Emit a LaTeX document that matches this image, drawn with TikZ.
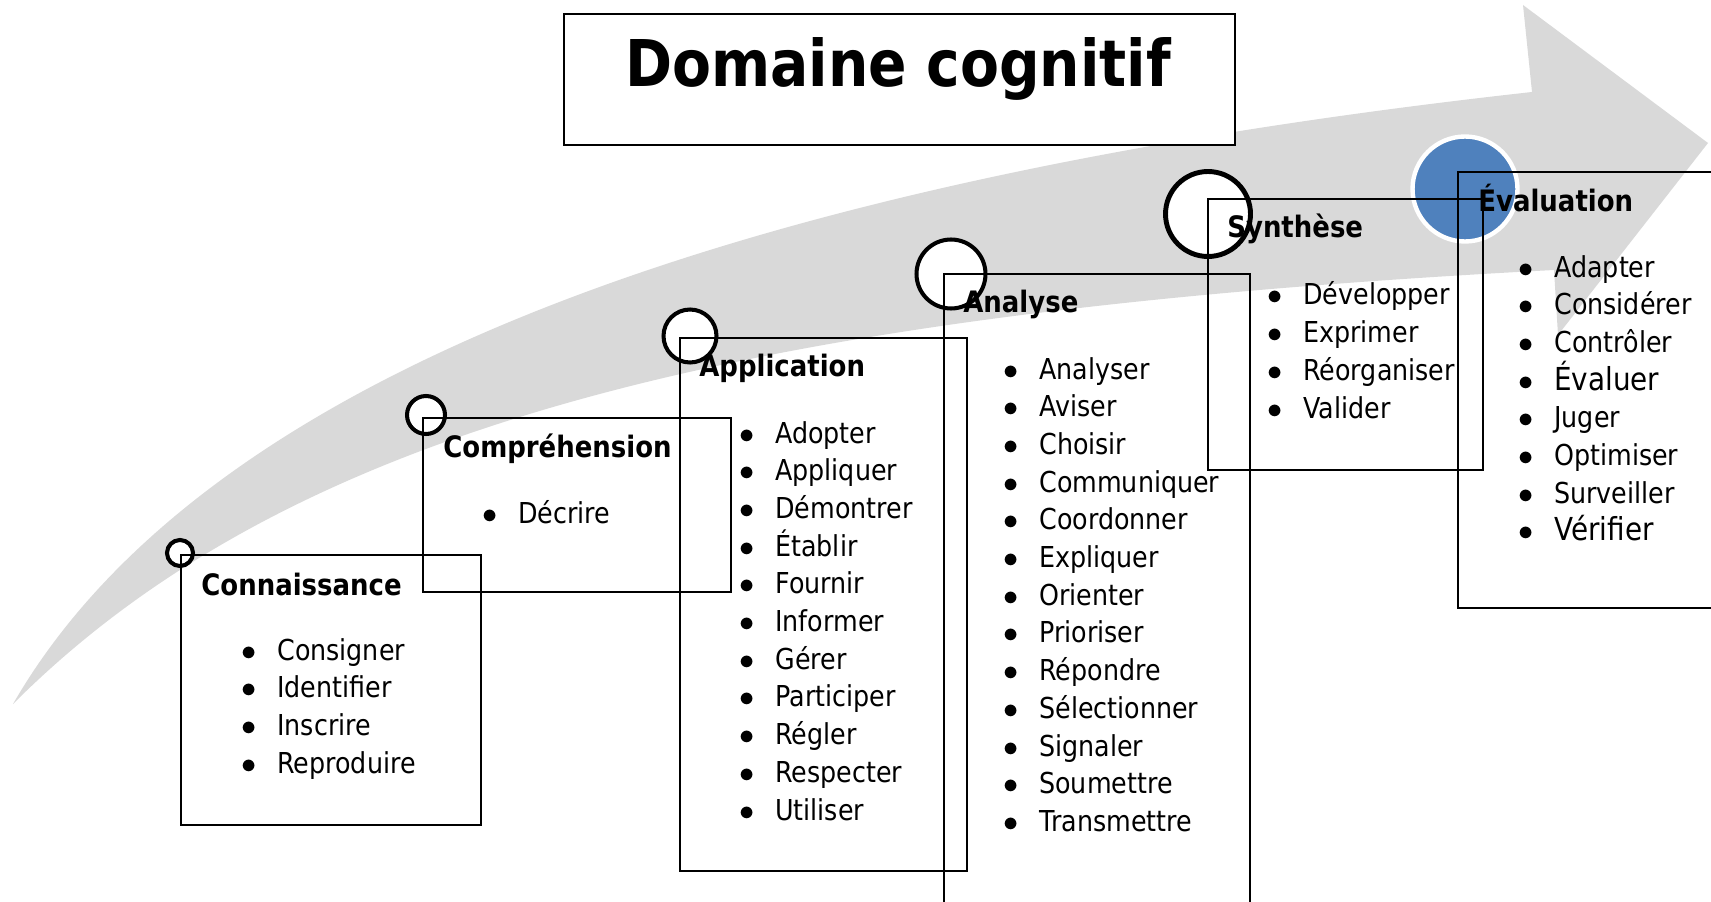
\documentclass[tikz,border=0pt]{standalone}
\usepackage{fontspec}
\setmainfont{DejaVu Sans}[FakeStretch=0.88]
\usepackage{xcolor}
\usepackage{tikz}

\definecolor{arrowgray}{RGB}{217,217,217}
\definecolor{evalblue}{RGB}{79,129,189}

\begin{document}
\begin{tikzpicture}[
  x=0.02cm, y=-0.02cm,
  stage/.style={rectangle, draw=black, line width=1.1pt, anchor=north west, inner sep=0pt},
  ring/.style={circle, draw=black, line width=2.3pt, fill=white, inner sep=0pt},
  head/.style={anchor=base west, inner sep=0pt, font=\fontsize{16.8}{20}\selectfont\bfseries},
  entry/.style={anchor=base west, inner sep=0pt, font=\fontsize{16.4}{20}\selectfont},
  titlebox/.style={rectangle, draw=black, line width=1.2pt, fill=white, anchor=north west,
                   minimum width=13.42cm, minimum height=2.62cm}
]
\useasboundingbox (0,0) rectangle (1711,902);

% Big grey arrow
\fill[arrowgray] (13,704) .. controls (223,340) and (836,169) .. (1532,92)
  -- (1523,5) -- (1708,143) -- (1558,335) -- (1554,270)
  .. controls (755,312) and (296,421) .. (13,704) -- cycle;

% Title
\node[titlebox] (titre) at (563,13) {};
\node[anchor=base, inner sep=0pt, font=\fontsize{36.7}{44}\selectfont\bfseries] (titreT) at (898,87) {Domaine cognitif};

% Circles on the arrow
\node[ring, minimum size=0.52cm] (connC) at (180,553) {};
\node[ring, minimum size=0.76cm] (compC) at (426,415) {};
\node[ring, minimum size=1.06cm] (applC) at (690,336) {};
\node[ring, minimum size=1.38cm] (analC) at (951,274) {};
\node[ring, minimum size=1.70cm, line width=2.8pt] (syntC) at (1208,214) {};
\node[circle, fill=evalblue, draw=white, line width=2.5pt, minimum size=2.1cm] (evalC) at (1465,189) {};

% Stage boxes
\node[stage, minimum width=6cm, minimum height=5.4cm] (conn) at (180,554) {};
\node[stage, minimum width=6.16cm, minimum height=3.48cm] (comp) at (422,417) {};
\node[stage, minimum width=5.74cm, minimum height=10.66cm] (appl) at (679,337) {};
\node[stage, minimum width=6.12cm, minimum height=13.2cm] (anal) at (943,273) {};
\node[stage, minimum width=5.5cm, minimum height=5.42cm] (synt) at (1207,198) {};
\node[stage, minimum width=5.8cm, minimum height=8.72cm] (eval) at (1457,171) {};

% Headings
\node[head] (connT) at (201,595) {Connaissance};
\node[head] (compT) at (443,457) {Compréhension};
\node[head] (applT) at (699,377) {Application};
\node[head] (analT) at (963,313) {Analyse};
\node[head] (syntT) at (1227,238) {Synthèse};
\node[head] (evalT) at (1478,212) {Évaluation};

% Verb lists
\foreach \w [count=\i from 0] in {Consigner,Identifier,Inscrire,Reproduire}
  \node[entry] (conn-\i) at (241,{660+37.7*\i}) {\makebox[0.72cm][l]{$\bullet$}\w};
\foreach \w [count=\i from 0] in {Décrire}
  \node[entry] (comp-\i) at (482,{523+37.7*\i}) {\makebox[0.72cm][l]{$\bullet$}\w};
\foreach \w [count=\i from 0] in {Adopter,Appliquer,Démontrer,Établir,Fournir,Informer,
    Gérer,Participer,Régler,Respecter,Utiliser}
  \node[entry] (appl-\i) at (739,{443+37.7*\i}) {\makebox[0.72cm][l]{$\bullet$}\w};
\foreach \w [count=\i from 0] in {Analyser,Aviser,Choisir,Communiquer,Coordonner,Expliquer,
    Orienter,Prioriser,Répondre,Sélectionner,Signaler,Soumettre,Transmettre}
  \node[entry] (anal-\i) at (1003,{379+37.7*\i}) {\makebox[0.72cm][l]{$\bullet$}\w};
\foreach \w [count=\i from 0] in {Développer,Exprimer,Réorganiser,Valider}
  \node[entry] (synt-\i) at (1267,{305+37.7*\i}) {\makebox[0.72cm][l]{$\bullet$}\w};
\foreach \w [count=\i from 0] in {Adapter,Considérer,Contrôler,{\fontsize{18}{20}\selectfont Évaluer},
    Juger,Optimiser,Surveiller,{\fontsize{18}{20}\selectfont Vérifier}}
  \node[entry] (eval-\i) at (1518,{277+37.7*\i}) {\makebox[0.72cm][l]{$\bullet$}\w};

\end{tikzpicture}
\end{document}
